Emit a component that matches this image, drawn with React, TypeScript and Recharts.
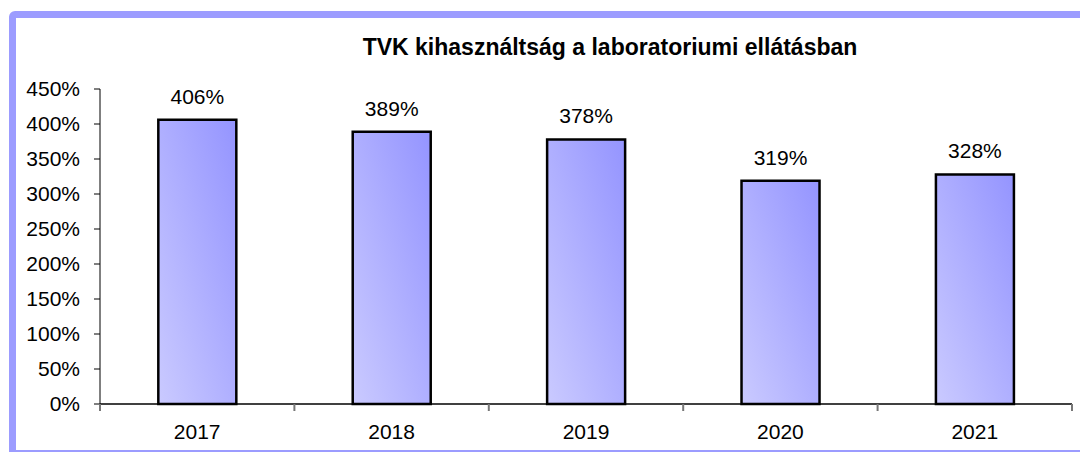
import React from 'react';
import { BarChart, Bar, XAxis, YAxis, LabelList } from 'recharts';

const years = ['2017', '2018', '2019', '2020', '2021'];
const utilization = [406, 389, 378, 319, 328];
const yTicks = [0, 50, 100, 150, 200, 250, 300, 350, 400, 450];
const title = 'TVK kihasználtság a laboratoriumi ellátásban';

const data = years.map((year, i) => ({ year, value: utilization[i] }));

const font = '"Liberation Sans", Arial, sans-serif';
const X_TICK_MARGIN = 20;

const CategoryTick = (props: any) => {
  const { x, y, payload, index, width, visibleTicksCount } = props;
  const n = visibleTicksCount || years.length;
  const half = payload && typeof payload.offset === 'number' && payload.offset > 0 ? payload.offset : width / (2 * n);
  const axisY = y - X_TICK_MARGIN;
  const isLast = index === n - 1;
  return (
    <g>
      <line x1={x - half} x2={x - half} y1={axisY} y2={axisY + 7} stroke="#777" strokeWidth={2} />
      {isLast && <line x1={x + half} x2={x + half} y1={axisY} y2={axisY + 7} stroke="#777" strokeWidth={2} />}
      <text x={x} y={y} dy="0.71em" textAnchor="middle" fill="#000" fontSize={21} fontFamily={font}>
        {payload.value}
      </text>
    </g>
  );
};

export default function App() {
  return (
    <div style={{ position: 'relative', width: 1080, height: 444, overflow: 'hidden', fontFamily: font }}>
      <div
        style={{
          position: 'absolute',
          left: 1,
          top: 3,
          width: 1120,
          height: 446,
          boxSizing: 'border-box',
          border: '7px solid #9c9cff',
          borderRadius: 6,
        }}
      />
      <div
        style={{
          position: 'absolute',
          left: 0,
          top: 26,
          width: 1204,
          textAlign: 'center',
          fontWeight: 'bold',
          fontSize: 23,
          color: '#000',
        }}
      >
        {title}
      </div>
      <div style={{ position: 'absolute', left: 0, top: 0 }}>
        <BarChart
          width={1080}
          height={444}
          data={data}
          margin={{ top: 81, right: 16, bottom: 18, left: 32 }}
          barCategoryGap="30%"
        >
          <defs>
            <linearGradient id="barGrad" x1="0" y1="1" x2="1" y2="0">
              <stop offset="0%" stopColor="#cacaff" />
              <stop offset="100%" stopColor="#9494ff" />
            </linearGradient>
          </defs>
          <XAxis
            dataKey="year"
            axisLine={{ stroke: '#000', strokeWidth: 1.5 }}
            tickLine={false}
            tickSize={0}
            tickMargin={X_TICK_MARGIN}
            height={30}
            interval={0}
            tick={<CategoryTick />}
          />
          <YAxis
            domain={[0, 450]}
            ticks={yTicks}
            width={60}
            axisLine={{ stroke: '#000', strokeWidth: 1 }}
            tickLine={{ stroke: '#000' }}
            tickSize={6}
            tickMargin={14}
            tickFormatter={(v: number) => `${v}%`}
            tick={{ fill: '#000', fontSize: 21, fontFamily: font }}
            interval={0}
          />
          <Bar
            dataKey="value"
            fill="url(#barGrad)"
            stroke="#000"
            strokeWidth={2.5}
            isAnimationActive={false}
          >
            <LabelList
              dataKey="value"
              position="top"
              offset={16}
              formatter={(v: number) => `${v}%`}
              style={{ fill: '#000', fontSize: 21, fontFamily: font }}
            />
          </Bar>
        </BarChart>
      </div>
    </div>
  );
}
